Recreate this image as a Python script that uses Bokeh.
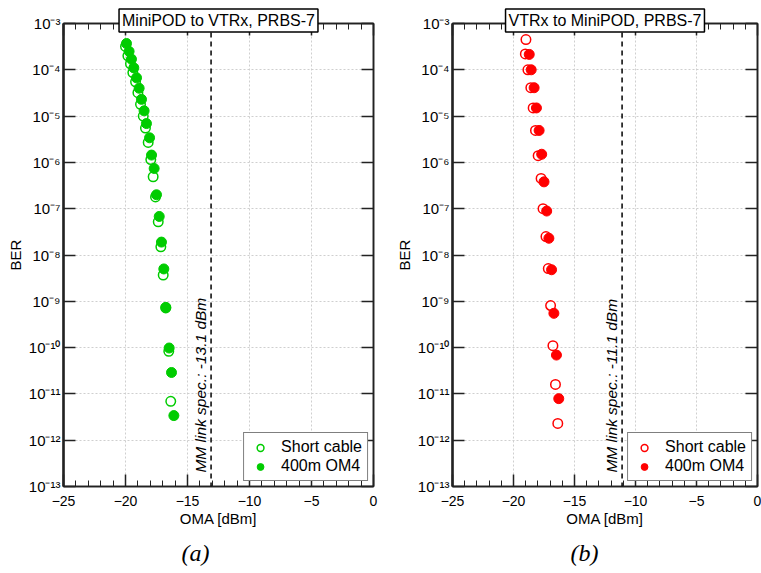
import math
from bokeh.plotting import figure
from bokeh.layouts import row
from bokeh.models import (Range1d, FixedTicker, CustomJSTickFormatter, LinearAxis, LogAxis,
                          Span, Label, Legend, LegendItem, Title)
from bokeh.embed import file_html
from bokeh.resources import INLINE

# ---------------- data ----------------
x_ticks = [-25, -20, -15, -10, -5, 0]
x_minor = list(range(-25, 1))
y_exponents = list(range(-13, -2))

titles = ["MiniPOD to VTRx, PRBS-7", "VTRx to MiniPOD, PRBS-7"]
captions = ["(a)", "(b)"]
spec_values = [-13.1, -11.1]
series_names = ["Short cable", "400m OM4"]

# panel (a): MiniPOD to VTRx
short_a_oma = [-20.0, -19.81, -19.6, -19.41, -19.19, -19.0, -18.79, -18.57, -18.39, -18.17,
               -17.96, -17.77, -17.58, -17.36, -17.15, -16.96, -16.75, -16.51, -16.35]
short_a_ber = [3.2e-4, 2.0e-4, 1.35e-4, 8.7e-5, 5.5e-5, 3.2e-5, 1.8e-5, 1.0e-5, 5.5e-6, 2.7e-6,
               1.15e-6, 4.9e-7, 1.8e-7, 5.2e-8, 1.5e-8, 3.7e-9, 7.2e-10, 8.3e-11, 6.9e-12]
long_a_oma = [-19.92, -19.71, -19.52, -19.33, -19.11, -18.9, -18.71, -18.5, -18.31, -18.06,
              -17.9, -17.69, -17.5, -17.28, -17.1, -16.91, -16.75, -16.48, -16.29, -16.1]
long_a_ber = [3.7e-4, 2.5e-4, 1.7e-4, 1.1e-4, 6.7e-5, 4.0e-5, 2.3e-5, 1.3e-5, 6.9e-6, 3.4e-6,
              1.44e-6, 7.4e-7, 2.0e-7, 6.8e-8, 1.9e-8, 5.0e-9, 7.4e-10, 9.8e-11, 2.9e-11, 3.4e-12]

# panel (b): VTRx to MiniPOD
short_b_oma = [-18.98, -19.03, -18.82, -18.58, -18.39, -18.2, -17.98, -17.74, -17.58, -17.34,
               -17.15, -16.96, -16.77, -16.56, -16.37]
short_b_ber = [4.5e-4, 2.2e-4, 1.0e-4, 4.1e-5, 1.5e-5, 4.9e-6, 1.4e-6, 4.5e-7, 1.0e-7, 2.5e-8,
               5.1e-9, 8.1e-10, 1.1e-10, 1.6e-11, 2.3e-12]
long_b_oma = [-18.71, -18.55, -18.31, -18.12, -17.9, -17.69, -17.5, -17.28, -17.1, -16.88,
              -16.69, -16.48, -16.29]
long_b_ber = [2.15e-4, 1.0e-4, 4.1e-5, 1.5e-5, 4.9e-6, 1.5e-6, 3.8e-7, 8.9e-8, 2.3e-8, 4.8e-9,
              5.5e-10, 6.9e-11, 7.9e-12]

colors = ["#00cc00", "#ff0000"]

FONT = "Liberation Sans"

sup_js = """
const sup = {"-":"\\u207b","0":"\\u2070","1":"\\u00b9","2":"\\u00b2","3":"\\u00b3",
             "4":"\\u2074","5":"\\u2075","6":"\\u2076","7":"\\u2077","8":"\\u2078","9":"\\u2079"};
const e = Math.round(Math.log10(tick));
return "10" + String(e).split("").map(c => sup[c]).join("");
"""
blank_js = "return '';"

H = 573
B_TOP = 23
B_BOTTOM = 87


def make_panel(idx, s_x, s_y, l_x, l_y, width, b_left, b_right):
    color = colors[idx]
    p = figure(width=width, height=H, x_range=Range1d(-25, 0),
               y_range=Range1d(10.0 ** y_exponents[0], 10.0 ** y_exponents[-1]),
               y_axis_type="log", output_backend="svg", toolbar_location=None,
               min_border_left=b_left, min_border_right=b_right,
               min_border_top=B_TOP, min_border_bottom=B_BOTTOM)
    p.background_fill_color = "white"
    p.border_fill_color = "white"
    p.outline_line_color = "black"
    p.outline_line_width = 1.5

    # panel title box, overlapping the top of the frame
    p.title.text = titles[idx]
    p.title.align = "center"
    p.title.text_font = FONT
    p.title.text_font_size = "16px"
    p.title.text_font_style = "normal"
    p.title.text_color = "black"
    p.title.border_line_color = "black"
    p.title.border_line_width = 1.5
    p.title.background_fill_color = "white"
    p.title.padding = 3
    p.title.standoff = -17

    xt = FixedTicker(ticks=x_ticks, minor_ticks=x_minor)
    yt = FixedTicker(ticks=[10.0 ** e for e in y_exponents], minor_ticks=[])

    xa = p.xaxis[0]
    xa.ticker = xt
    xa.axis_label = "OMA [dBm]"
    ya = p.yaxis[0]
    ya.ticker = yt
    ya.formatter = CustomJSTickFormatter(code=sup_js)
    ya.axis_label = "BER"

    top = LinearAxis(ticker=xt, formatter=CustomJSTickFormatter(code=blank_js))
    right = LogAxis(ticker=yt, formatter=CustomJSTickFormatter(code=blank_js))
    p.add_layout(top, "above")
    p.add_layout(right, "right")

    for ax in (xa, ya, top, right):
        ax.major_tick_in = 12
        ax.major_tick_out = 0
        ax.minor_tick_in = 6
        ax.minor_tick_out = 0
        ax.axis_line_color = "#222222"
        ax.axis_line_width = 1.5
        ax.major_tick_line_color = "#222222"
        ax.major_tick_line_width = 1.5
        ax.minor_tick_line_color = "#222222"
        ax.minor_tick_line_width = 1
        ax.major_label_text_font = FONT
        ax.major_label_text_font_size = "14px"
        ax.major_label_text_color = "black"
        ax.axis_label_text_font = FONT
        ax.axis_label_text_font_size = "15px"
        ax.axis_label_text_font_style = "normal"
        ax.axis_label_text_color = "black"
    for ax in (top, right):
        ax.major_label_text_font_size = "1px"
        ax.major_label_standoff = 0
    ya.axis_line_width = 2.5
    ya.major_label_text_font_size = "15px"
    xa.major_label_standoff = 9
    xa.axis_label_standoff = 1
    ya.major_label_standoff = 3
    ya.axis_label_standoff = 2

    p.xgrid.ticker = xt
    p.ygrid.ticker = yt
    for g in (p.xgrid[0], p.ygrid[0]):
        g.grid_line_color = "#cfcfcf"
        g.grid_line_dash = "2 2"
        g.grid_line_width = 1

    # spec line
    p.add_layout(Span(location=spec_values[idx], dimension="height", line_color="black",
                      line_dash="5 4", line_width=1.5))
    p.add_layout(Label(x=spec_values[idx], y=10.0 ** -12.7,
                       text="MM link spec.: %.1f dBm" % spec_values[idx],
                       angle=math.pi / 2, text_align="left", text_baseline="bottom",
                       text_font=FONT, text_font_style="italic", text_font_size="15.5px",
                       x_offset=-2, text_color="black"))

    r_open = p.scatter(s_x, s_y, marker="circle", size=9.5, fill_color=None,
                       line_color=color, line_width=1.5)
    r_fill = p.scatter(l_x, l_y, marker="circle", size=10, fill_color=color,
                       line_color=color, line_width=1)

    legend = Legend(items=[LegendItem(label=series_names[0], renderers=[r_open]),
                           LegendItem(label=series_names[1], renderers=[r_fill])],
                    location="bottom_right")
    legend.border_line_color = "black"
    legend.border_line_width = 1.5
    legend.label_text_font = FONT
    legend.label_text_font_size = "16px"
    legend.label_text_color = "black"
    legend.glyph_width = 22
    legend.glyph_height = 17
    legend.label_height = 17
    legend.spacing = 1
    legend.padding = 5
    legend.margin = 5
    legend.label_standoff = 10
    legend.background_fill_alpha = 1
    p.add_layout(legend)

    cap = Title(text=captions[idx], align="left", text_font="Liberation Serif",
                text_font_style="italic", text_font_size="24px", text_color="black",
                offset=118, standoff=16)
    p.add_layout(cap, "below")
    return p


pa = make_panel(0, short_a_oma, short_a_ber, long_a_oma, long_a_ber, 389, 63, 16)
pb = make_panel(1, short_b_oma, short_b_ber, long_b_oma, long_b_ber, 372, 63, 4)

layout = row(pa, pb)
open("out.html", "w").write(file_html(layout, INLINE))
